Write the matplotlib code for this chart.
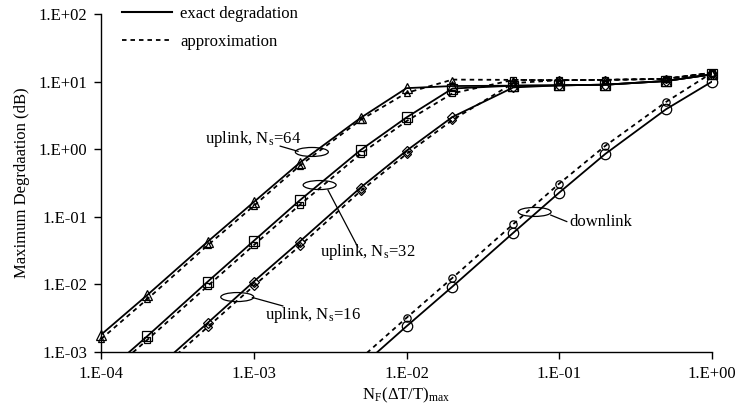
import numpy as np
import matplotlib
matplotlib.use("Agg")
import matplotlib.pyplot as plt
from matplotlib.patches import Ellipse
from matplotlib.lines import Line2D
from matplotlib.ticker import FixedLocator, FuncFormatter, NullLocator
import matplotlib.transforms as mtransforms

plt.rcParams['font.family'] = ['Liberation Serif', 'DejaVu Serif']
plt.rcParams['mathtext.fontset'] = 'stix'
FS = 12

# ---------------- data ----------------
x_up = [1e-4, 2e-4, 5e-4, 1e-3, 2e-3, 5e-3, 1e-2, 2e-2, 5e-2, 1e-1, 2e-1, 5e-1, 1.0]
up64_exact  = [1.8e-3, 6.9e-3, 4.3e-2, 0.165, 0.63, 2.9, 8.0, 8.6, 8.7, 8.8, 9.0, 10.2, 12.8]
up64_approx = [1.55e-3, 6.0e-3, 3.8e-2, 0.145, 0.57, 2.7, 6.8, 10.7, 10.6, 10.5, 10.6, 11.0, 13.5]
up32_exact  = [4.3e-4, 1.7e-3, 1.1e-2, 4.4e-2, 0.175, 0.97, 2.95, 7.9, 8.7, 8.8, 9.0, 10.2, 12.8]
up32_approx = [3.8e-4, 1.5e-3, 9.5e-3, 3.8e-2, 0.15, 0.85, 2.6, 6.7, 10.6, 10.5, 10.6, 11.0, 13.5]
up16_exact  = [1.1e-4, 4.3e-4, 2.7e-3, 1.1e-2, 4.3e-2, 0.27, 0.95, 3.0, 8.2, 8.8, 9.0, 10.2, 12.8]
up16_approx = [9.5e-5, 3.7e-4, 2.35e-3, 9.5e-3, 3.7e-2, 0.24, 0.85, 2.7, 9.5, 10.5, 10.6, 11.0, 13.5]

x_down = [5e-3, 1e-2, 2e-2, 5e-2, 1e-1, 2e-1, 5e-1, 1.0]
down_exact  = [6.0e-4, 2.4e-3, 9.3e-3, 5.8e-2, 0.228, 0.85, 3.9, 10.0]
down_approx = [8.0e-4, 3.2e-3, 1.25e-2, 7.8e-2, 0.31, 1.12, 5.0, 13.5]

x_ticks = [1e-4, 1e-3, 1e-2, 1e-1, 1.0]
y_ticks = [1e-3, 1e-2, 1e-1, 1.0, 1e1, 1e2]

series = [
    (x_up, up64_exact, up64_approx, '^'),
    (x_up, up32_exact, up32_approx, 's'),
    (x_up, up16_exact, up16_approx, 'D'),
    (x_down, down_exact, down_approx, 'o'),
]

# ---------------- figure ----------------
fig = plt.figure(figsize=(7.36, 4.15), dpi=100)
ax = fig.add_axes([101/736, 1-352/415, (712-101)/736, (352-14)/415])
ax.set_xscale('log')
ax.set_yscale('log')
ax.set_xlim(1e-4, 1.0)
ax.set_ylim(1e-3, 1e2)

msize = {'^': 6.5, 's': 7, 'D': 5.5, 'o': 7.5}
for xs, ye, ya, mk in series:
    xs = np.array(xs); ye = np.array(ye); ya = np.array(ya)
    ax.plot(xs, ye, '-', color='black', lw=1.3)
    ax.plot(xs, ya, color='black', lw=1.3, linestyle=(0, (2.5, 2.2)))
    me = ye >= 1e-3
    ma = ya >= 1e-3
    ax.plot(xs[me], ye[me], linestyle='none', marker=mk, ms=msize[mk], mfc='none',
            mec='black', mew=0.9, clip_on=False)
    ax.plot(xs[ma], ya[ma], linestyle='none', marker=mk, ms=msize[mk]*0.7, mfc='none',
            mec='black', mew=0.9, clip_on=False)

for s in ['top', 'right']:
    ax.spines[s].set_visible(False)
for s in ['left', 'bottom']:
    ax.spines[s].set_linewidth(1.0)

ax.xaxis.set_major_locator(FixedLocator(x_ticks))
ax.yaxis.set_major_locator(FixedLocator(y_ticks))
ax.xaxis.set_minor_locator(NullLocator())
ax.yaxis.set_minor_locator(NullLocator())

def fmt(v, pos):
    e = int(np.round(np.log10(v)))
    m = v / 10**e
    return "%d.E%+03d" % (int(round(m)), e)

ax.xaxis.set_major_formatter(FuncFormatter(fmt))
ax.yaxis.set_major_formatter(FuncFormatter(fmt))
ax.tick_params(direction='out', length=5, width=1, labelsize=FS, pad=5)

ax.set_xlabel(r'N$_\mathregular{F}$(ΔT/T)$_\mathregular{max}$', fontsize=FS, labelpad=3)
ax.set_ylabel('Maximum Degrdaation (dB)', fontsize=FS, labelpad=6)

# legend
handles = [Line2D([], [], color='black', lw=1.5),
           Line2D([], [], color='black', lw=1.3, linestyle=(0, (2.5, 2.2)))]
fig.legend(handles, ['exact degradation', 'approximation'], loc='upper left',
           bbox_to_anchor=(122/736, 1-6/415), frameon=False, fontsize=FS,
           borderpad=0, borderaxespad=0, handlelength=3.0, handletextpad=0.5,
           labelspacing=0.72)

# annotations (ellipse, leader, text)
def ell(xc, yc):
    tr = fig.dpi_scale_trans + mtransforms.ScaledTranslation(xc, yc, ax.transData)
    e = Ellipse((0, 0), 0.33, 0.09, transform=tr, fill=False, ec='black', lw=0.9, clip_on=False)
    ax.add_patch(e)

ell(2.4e-3, 0.91)
ax.plot([1.49e-3, 1.95e-3], [1.11, 0.93], color='black', lw=0.9)
ax.text(4.8e-4, 1.41, r'uplink, N$_\mathregular{s}$=64', fontsize=FS, va='center', ha='left')

ell(2.7e-3, 0.295)
ax.plot([3.06e-3, 4.8e-3], [0.249, 0.0357], color='black', lw=0.9)
ax.text(2.7e-3, 0.030, r'uplink, N$_\mathregular{s}$=32', fontsize=FS, va='center', ha='left')

ell(7.8e-4, 6.5e-3)
ax.plot([9.8e-4, 1.55e-3], [6.4e-3, 4.8e-3], color='black', lw=0.9)
ax.text(1.19e-3, 3.5e-3, r'uplink, N$_\mathregular{s}$=16', fontsize=FS, va='center', ha='left')

ell(0.069, 0.118)
ax.plot([0.088, 0.112], [0.106, 0.085], color='black', lw=0.9)
ax.text(0.117, 0.084, 'downlink', fontsize=FS, va='center', ha='left')

fig.savefig('out.png', dpi=100)
